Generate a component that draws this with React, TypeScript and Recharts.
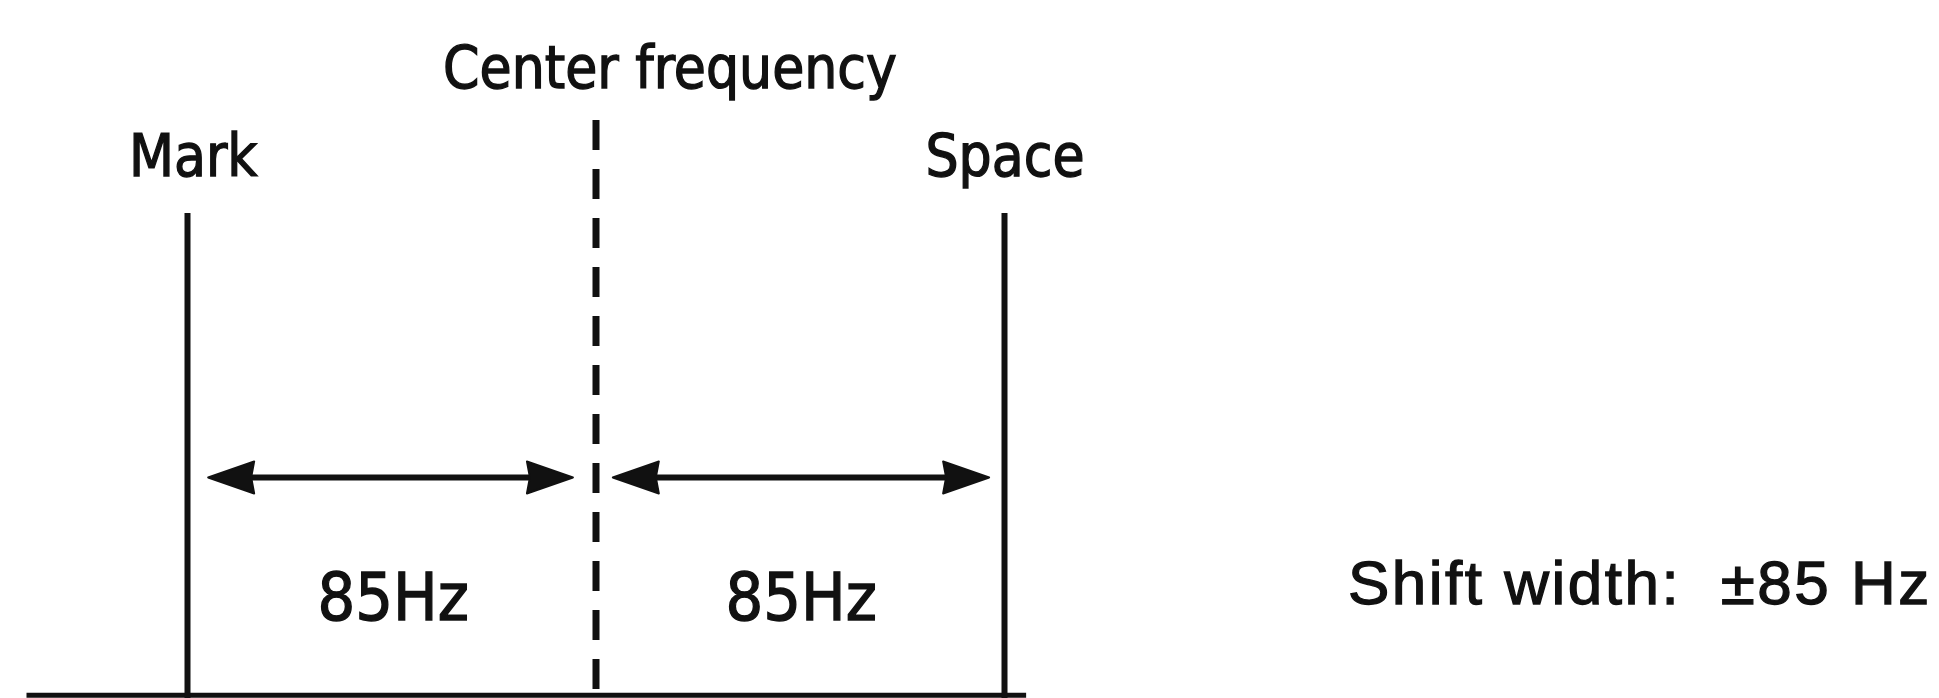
import { ComposedChart, XAxis, YAxis, ReferenceLine, ReferenceDot } from "recharts"

// frequency offsets in Hz, relative to the centre frequency
const toneNames = ["Mark", "Space"]
const toneFreqs = [-85, 85]
const toneLabelFreqs = [-83.8, 85.1]
const toneHeight = 69.5
const toneLabelHeight = 77.7

const centerFreq = 0
const centerHeight = 82.8
const centerLabel = "Center frequency"
const centerLabelFreq = 15.4
const centerLabelHeight = 90.4

const arrowSpans = [
  [-80.7, -4.8],
  [3.5, 81.8],
]
const arrowHeight = 31.6
const shiftLabels = ["85Hz", "85Hz"]
const shiftLabelFreqs = [-42.2, 42.7]
const shiftLabelHeight = 14.6

const baselineSpan = [-118.5, 89.5]
const baselineHeight = 0.4

const noteText = "Shift width:\u00a0\u00a0±85\u00a0Hz"
const noteFreq = 217.2
const noteHeight = 16.6

const INK = "#111"
const W = 1939
const H = 698
// about 4.8px per Hz, centre frequency at x=596
const PX_PER_HZ = 817 / 170
const X_DOMAIN = [-596 / PX_PER_HZ, (W - 596) / PX_PER_HZ]

const DoubleArrow = (props: any) => {
  const { x1, y1, x2 } = props
  const head = 46
  const half = 16
  const y = y1
  return (
    <g>
      <line x1={x1 + head - 8} y1={y} x2={x2 - head + 8} y2={y} stroke={INK} strokeWidth={6} />
      <polygon
        points={`${x1},${y} ${x1 + head},${y - half} ${x1 + head - 3},${y} ${x1 + head},${y + half}`}
        fill={INK}
        stroke={INK}
        strokeWidth={2}
        strokeLinejoin="round"
      />
      <polygon
        points={`${x2},${y} ${x2 - head},${y - half} ${x2 - head + 3},${y} ${x2 - head},${y + half}`}
        fill={INK}
        stroke={INK}
        strokeWidth={2}
        strokeLinejoin="round"
      />
    </g>
  )
}

const labelFont = "'DejaVu Sans Condensed', 'DejaVu Sans', sans-serif"
const textStyle = { fill: INK, stroke: INK, strokeWidth: 1.3 }

export default function App() {
  return (
    <div style={{ position: "absolute", left: 0, top: 0, width: W, height: H, background: "#fff" }}>
      <ComposedChart width={W} height={H} data={[]} margin={{ top: 0, right: 0, bottom: 0, left: 0 }}>
        <XAxis type="number" dataKey="f" domain={X_DOMAIN} hide allowDataOverflow />
        <YAxis type="number" domain={[0, 100]} hide allowDataOverflow />

        <ReferenceLine
          segment={[
            { x: baselineSpan[0], y: baselineHeight },
            { x: baselineSpan[1], y: baselineHeight },
          ]}
          stroke={INK}
          strokeWidth={5}
        />

        {toneFreqs.map((f, i) => (
          <ReferenceLine
            key={`tone-${i}`}
            segment={[
              { x: f, y: toneHeight },
              { x: f, y: 0 },
            ]}
            stroke={INK}
            strokeWidth={6}
          />
        ))}

        <ReferenceLine
          segment={[
            { x: centerFreq, y: centerHeight },
            { x: centerFreq, y: 0 },
          ]}
          stroke={INK}
          strokeWidth={7}
          strokeDasharray="30 19"
        />

        {arrowSpans.map((s, i) => (
          <ReferenceLine
            key={`arrow-${i}`}
            segment={[
              { x: s[0], y: arrowHeight },
              { x: s[1], y: arrowHeight },
            ]}
            shape={DoubleArrow}
          />
        ))}

        {toneNames.map((name, i) => (
          <ReferenceDot
            key={`tn-${i}`}
            x={toneLabelFreqs[i]}
            y={toneLabelHeight}
            r={0}
            fill="none"
            stroke="none"
            label={{ value: name, position: "center", fontSize: 58, fontFamily: labelFont, ...textStyle }}
          />
        ))}

        <ReferenceDot
          x={centerLabelFreq}
          y={centerLabelHeight}
          r={0}
          fill="none"
          stroke="none"
          label={{ value: centerLabel, position: "center", fontSize: 58, fontFamily: labelFont, ...textStyle }}
        />

        {shiftLabels.map((t, i) => (
          <ReferenceDot
            key={`sl-${i}`}
            x={shiftLabelFreqs[i]}
            y={shiftLabelHeight}
            r={0}
            fill="none"
            stroke="none"
            label={{ value: t, position: "center", fontSize: 66, fontFamily: labelFont, ...textStyle }}
          />
        ))}

        <ReferenceDot
          x={noteFreq}
          y={noteHeight}
          r={0}
          fill="none"
          stroke="none"
          label={{
            value: noteText,
            position: "center",
            fontSize: 62,
            fontFamily: "'Liberation Sans', Arial, sans-serif",
            letterSpacing: 2.5,
            ...textStyle,
          }}
        />
      </ComposedChart>
    </div>
  )
}
